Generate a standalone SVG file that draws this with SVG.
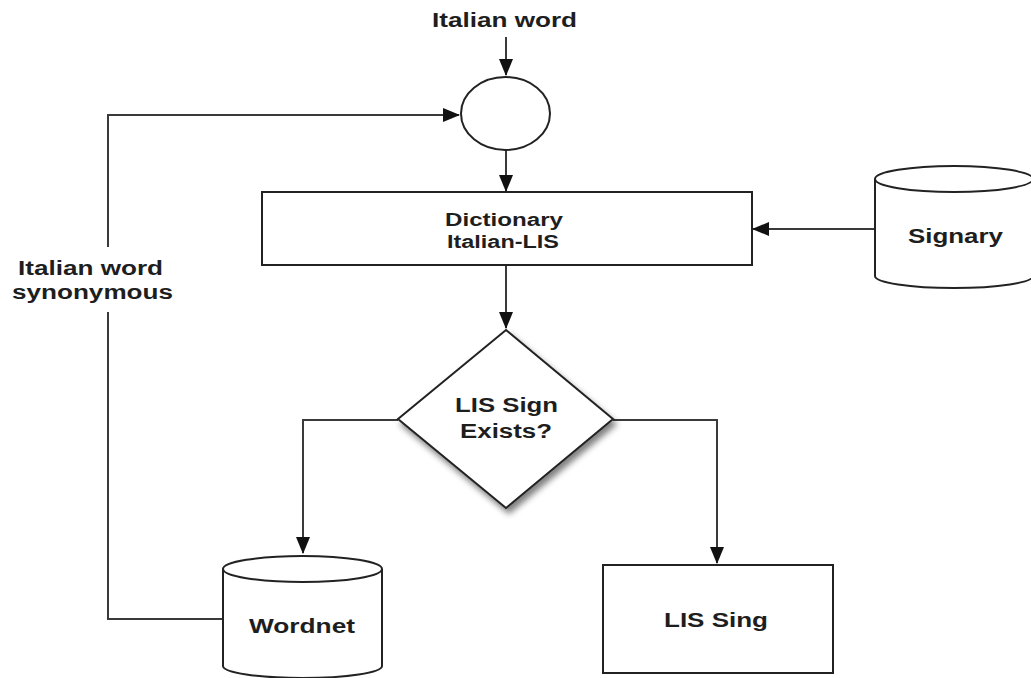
<svg xmlns="http://www.w3.org/2000/svg" width="1031" height="678" viewBox="0 0 1031 678">
<style>
.s{fill:#fff;stroke:#222;stroke-width:2}
.c{fill:none;stroke:#3a3a3a;stroke-width:2}
.t{font-family:"Liberation Sans",Arial,sans-serif;font-weight:bold;fill:#1e1e1e;text-anchor:middle}
</style>
<defs>
<marker id="a" markerWidth="17" markerHeight="16" refX="16" refY="8" orient="auto" markerUnits="userSpaceOnUse">
<path d="M0,1 L17,8 L0,15 Z" fill="#111"/>
</marker>
<filter id="sh" x="-20%" y="-20%" width="150%" height="150%">
<feGaussianBlur in="SourceAlpha" stdDeviation="3"/>
<feOffset dx="3" dy="5"/>
<feComponentTransfer><feFuncA type="linear" slope="0.5"/></feComponentTransfer>
<feMerge><feMergeNode/><feMergeNode in="SourceGraphic"/></feMerge>
</filter>
</defs>
<rect width="1031" height="678" fill="#fff"/>
<g id="connectors">
<path class="c" d="M506,37 L506,75" marker-end="url(#a)"/>
<path class="c" d="M506,150 L506,191" marker-end="url(#a)"/>
<path class="c" d="M875,229 L753,229" marker-end="url(#a)"/>
<path class="c" d="M506,265 L506,328" marker-end="url(#a)"/>
<path class="c" d="M398,420 L303,420 L303,553" marker-end="url(#a)"/>
<path class="c" d="M613,420 L717,420 L717,563" marker-end="url(#a)"/>
<path class="c" d="M223,619 L108,619 L108,312"/>
<path class="c" d="M108,247 L108,115 L459,115" marker-end="url(#a)"/>
<text class="t" x="90.5" y="275" font-size="20" textLength="145" lengthAdjust="spacingAndGlyphs">Italian word</text>
<text class="t" x="92.5" y="299" font-size="20" textLength="161" lengthAdjust="spacingAndGlyphs">synonymous</text>
</g>
<g id="input">
<text class="t" x="504.5" y="27" font-size="20" textLength="145" lengthAdjust="spacingAndGlyphs">Italian word</text>
</g>
<g id="merge">
<ellipse class="s" cx="505.5" cy="113.5" rx="44.5" ry="36.5"/>
</g>
<g id="dictionary">
<rect class="s" x="262" y="192" width="490" height="73"/>
<text class="t" x="504" y="226" font-size="18" textLength="118" lengthAdjust="spacingAndGlyphs">Dictionary</text>
<text class="t" x="503" y="248" font-size="18" textLength="112" lengthAdjust="spacingAndGlyphs">Italian-LIS</text>
</g>
<g id="signary">
<path class="s" d="M875,179 L875,276 A79,12 0 0 0 1033,276 L1033,179"/>
<ellipse class="s" cx="954" cy="179" rx="79" ry="13"/>
<text class="t" x="955.5" y="243" font-size="20" textLength="95" lengthAdjust="spacingAndGlyphs">Signary</text>
</g>
<g id="decision">
<polygon class="s" filter="url(#sh)" points="506,330 613,419 506,508 398,419"/>
<text class="t" x="506.5" y="412" font-size="20" textLength="103" lengthAdjust="spacingAndGlyphs">LIS Sign</text>
<text class="t" x="506" y="438" font-size="20" textLength="92" lengthAdjust="spacingAndGlyphs">Exists?</text>
</g>
<g id="wordnet">
<path class="s" d="M223,569 L223,666 A79.5,12 0 0 0 382,666 L382,569"/>
<ellipse class="s" cx="302.5" cy="569" rx="79.5" ry="13"/>
<text class="t" x="302" y="633" font-size="20" textLength="106" lengthAdjust="spacingAndGlyphs">Wordnet</text>
</g>
<g id="lissing">
<rect class="s" x="603" y="565" width="230" height="108"/>
<text class="t" x="716" y="627" font-size="20" textLength="104" lengthAdjust="spacingAndGlyphs">LIS Sing</text>
</g>
</svg>
